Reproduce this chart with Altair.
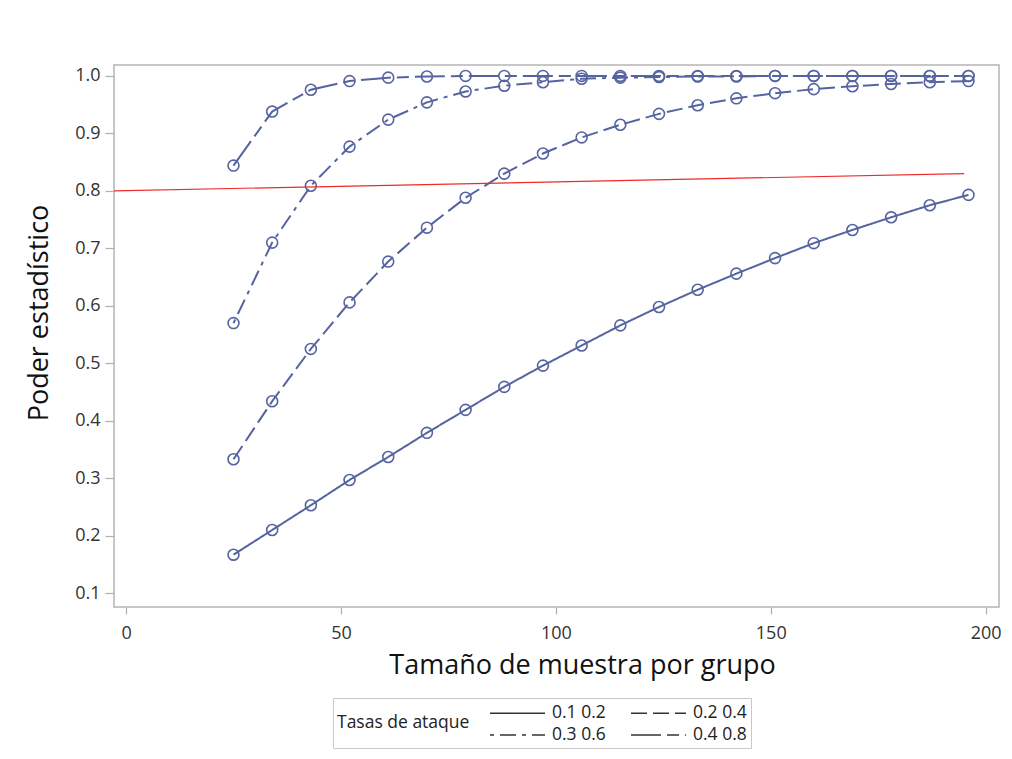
import altair as alt
import pandas as pd

# sample size per group
n = [25, 34, 43, 52, 61, 70, 79, 88, 97, 106, 115, 124, 133, 142, 151, 160, 169, 178, 187, 196]

series_names = ["0.1 0.2", "0.2 0.4", "0.3 0.6", "0.4 0.8"]
power_01_02 = [0.167, 0.210, 0.253, 0.297, 0.337, 0.379, 0.419, 0.459, 0.496, 0.531,
               0.566, 0.598, 0.628, 0.656, 0.683, 0.709, 0.732, 0.754, 0.775, 0.793]
power_02_04 = [0.333, 0.434, 0.525, 0.606, 0.677, 0.736, 0.788, 0.830, 0.865, 0.893,
               0.915, 0.934, 0.949, 0.961, 0.970, 0.977, 0.982, 0.986, 0.989, 0.991]
power_03_06 = [0.570, 0.710, 0.809, 0.877, 0.924, 0.954, 0.973, 0.983, 0.989, 0.995,
               0.997, 0.998, 0.999, 0.999, 1.000, 1.000, 1.000, 1.000, 1.000, 1.000]
power_04_08 = [0.844, 0.938, 0.976, 0.991, 0.997, 0.999, 1.000, 1.000, 1.000, 1.000,
               1.000, 1.000, 1.000, 1.000, 1.000, 1.000, 1.000, 1.000, 1.000, 1.000]

ref_x = [-2.8, 195]
ref_y = [0.800, 0.830]

x_ticks = [0, 50, 100, 150, 200]
y_ticks = [0.1, 0.2, 0.3, 0.4, 0.5, 0.6, 0.7, 0.8, 0.9, 1.0]

rows = []
for name, vals in zip(series_names, [power_01_02, power_02_04, power_03_06, power_04_08]):
    for xi, yi in zip(n, vals):
        rows.append({"n": xi, "power": yi, "serie": name})
df = pd.DataFrame(rows)
ref_df = pd.DataFrame({"n": ref_x, "power": ref_y})

LINE = "#5564a0"
FONT = "Open Sans"

x_enc = alt.X("n:Q", scale=alt.Scale(domain=[-2.8, 203.1], nice=False, zero=False),
              axis=alt.Axis(values=x_ticks, title="Tamaño de muestra por grupo",
                            tickSize=7, labelPadding=10,
                            titleX=468, titleY=66, titleBaseline="alphabetic",
                            titleAlign="center"))
y_enc = alt.Y("power:Q", scale=alt.Scale(domain=[0.076, 1.019], nice=False, zero=False),
              axis=alt.Axis(values=y_ticks, format=".1f", title="Poder estadístico",
                            tickSize=9, labelPadding=5,
                            titleX=-67, titleY=247.5, titleBaseline="alphabetic",
                            titleAlign="center", titleAngle=-90))

lines = alt.Chart(df).mark_line(color=LINE, strokeWidth=2).encode(
    x=x_enc,
    y=y_enc,
    strokeDash=alt.StrokeDash(
        "serie:N",
        scale=alt.Scale(domain=series_names,
                        range=[[1, 0], [16, 6], [4, 6, 16, 6], [30, 6, 12, 6]]),
        legend=alt.Legend(
            title="Tasas de ataque", orient="none", legendX=219, legendY=633,
            direction="horizontal", columns=2, titleOrient="left",
            titleAnchor="middle", titleBaseline="middle",
            symbolType="M-1.1,0L4.4,0", symbolSize=400, symbolStrokeWidth=1.5,
            symbolStrokeColor="#333333", symbolFillColor="transparent",
            strokeColor="#c8c8c8", padding=4, titlePadding=20,
            labelFont=FONT, labelFontSize=17.5, labelColor="#222222",
            titleFont=FONT, titleFontSize=17.5, titleFontWeight="normal",
            titleColor="#222222", columnPadding=22, rowPadding=2, labelOffset=40,
        ),
    ),
)

points = alt.Chart(df).mark_point(
    shape="circle", filled=False, size=120, strokeWidth=1.6, color=LINE, opacity=1
).encode(x="n:Q", y="power:Q")

ref = alt.Chart(ref_df).mark_line(color="#ee2a2a", strokeWidth=1.2, clip=True).encode(
    x="n:Q", y="power:Q"
)

chart = alt.layer(lines, points, ref).properties(
    width=885, height=542,
    autosize=alt.AutoSizeParams(type="none"),
    padding={"left": 106, "top": 57, "right": 5, "bottom": 145},
).configure_view(
    stroke="#b5b5b5", strokeWidth=1.5
).configure_axis(
    domain=False, grid=False, tickColor="#b0b0b0", tickWidth=1.2,
    labelFont=FONT, labelFontSize=18, labelColor="#333333",
    titleFont=FONT, titleFontSize=27, titleFontWeight="normal", titleColor="#111111",
)

chart.save("out.html", embed_options={"renderer": "svg", "actions": False})
